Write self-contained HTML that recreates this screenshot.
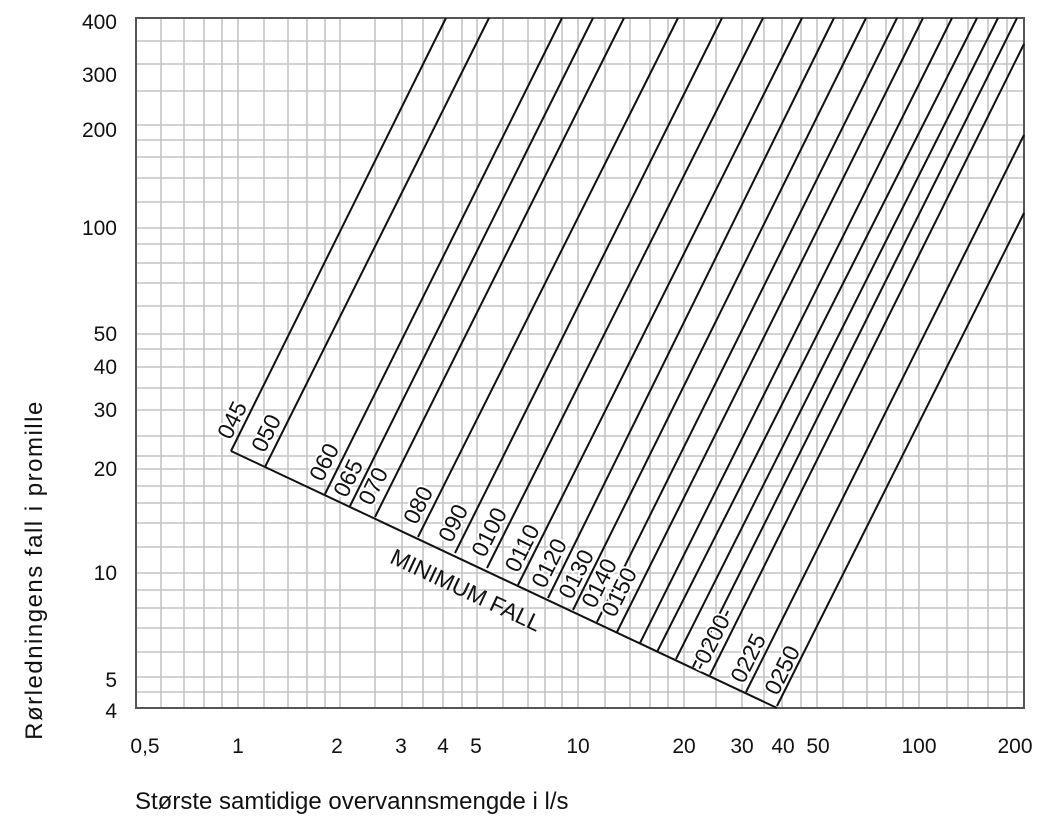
<!DOCTYPE html>
<html><head><meta charset="utf-8"><style>
html,body{margin:0;padding:0;background:#fff}
svg{display:block;font-family:"Liberation Sans",sans-serif}
</style></head><body>
<svg width="1051" height="819" viewBox="0 0 1051 819" xmlns="http://www.w3.org/2000/svg">
<g stroke="#c4c4c4" stroke-width="1.6">
<path d="M161 18V708M184 18V708M204 18V708M222 18V708M238 18V708M264 18V708M288 18V708M307 18V708M325 18V708M340 18V708M375 18V708M402 18V708M423 18V708M443 18V708M462 18V708M477 18V708M503 18V708M528 18V708M545 18V708M562 18V708M578 18V708M605 18V708M630 18V708M650 18V708M668 18V708M684 18V708M716 18V708M742 18V708M764 18V708M782 18V708M801 18V708M817 18V708M843 18V708M867 18V708M886 18V708M903 18V708M919 18V708M947 18V708M968 18V708M988 18V708M1007 18V708"/>
<path d="M136 41H1024M136 64H1024M136 91H1024M136 125H1024M136 140H1024M136 157H1024M136 178H1024M136 202H1024M136 228H1024M136 244H1024M136 263H1024M136 283H1024M136 306H1024M136 334H1024M136 349H1024M136 367H1024M136 388H1024M136 410H1024M136 436H1024M136 456H1024M136 469H1024M136 486H1024M136 503H1024M136 523H1024M136 547H1024M136 573H1024M136 590H1024M136 608H1024M136 628H1024M136 652H1024M136 677H1024M136 692H1024"/>
</g>
<rect x="136" y="18" width="888" height="690" fill="none" stroke="#555" stroke-width="2"/>
<g stroke="#111" stroke-width="2" fill="none">
<path d="M231 451L777 708"/>
<path d="M231 451L446 18M265 467L489 18M325 494L562 18M350 506L593 18M375 517L624 18M418 537L678 18M455 553L722 18M487 568L763 18M518 585L802 18M548 598L834 18M573 610L866 18M597 622L897 18M617 632L923 18M640 643L952 18M657 652L977 18M676 659L998 18M693 667L1017 18M710 675L1024 44M746 692L1024 135M777 706L1024 213"/>
</g>
<g font-size="23" fill="#111" text-anchor="middle" dominant-baseline="central">
<g stroke="#fff" stroke-width="4" paint-order="stroke">
<text transform="translate(232,420) rotate(-63.5)">045</text>
<text transform="translate(266,433) rotate(-63.5)">050</text>
<text transform="translate(324,462) rotate(-63.5)">060</text>
<text transform="translate(348,478) rotate(-63.5)">065</text>
<text transform="translate(373,486) rotate(-63.5)">070</text>
<text transform="translate(418,505) rotate(-63.5)">080</text>
<text transform="translate(453,523) rotate(-63.5)">090</text>
<text transform="translate(489,532) rotate(-63.5)">0100</text>
<text transform="translate(522,548) rotate(-63.5)">0110</text>
<text transform="translate(549,563) rotate(-63.5)">0120</text>
<text transform="translate(576,574) rotate(-63.5)">0130</text>
<text transform="translate(599,583) rotate(-63.5)">0140</text>
<text transform="translate(619,592) rotate(-63.5)">0150</text>
<text transform="translate(712,639) rotate(-63.5)">-0200-</text>
<text transform="translate(748,658) rotate(-63.5)">0225</text>
<text transform="translate(782,670) rotate(-63.5)">0250</text>
</g>
<text transform="translate(466,590) rotate(25.2)" font-size="23">MINIMUM FALL</text>
</g>
<g font-size="21" fill="#111" text-anchor="end">
<text x="117" y="29">400</text>
<text x="117" y="82">300</text>
<text x="117" y="137">200</text>
<text x="117" y="235">100</text>
<text x="117" y="341">50</text>
<text x="117" y="374">40</text>
<text x="117" y="417">30</text>
<text x="117" y="476">20</text>
<text x="117" y="580">10</text>
<text x="117" y="687">5</text>
<text x="117" y="718">4</text>
</g>
<g font-size="21" fill="#111" text-anchor="middle">
<text x="145" y="753">0,5</text>
<text x="238" y="753">1</text>
<text x="337" y="753">2</text>
<text x="401" y="753">3</text>
<text x="443" y="753">4</text>
<text x="476" y="753">5</text>
<text x="578" y="753">10</text>
<text x="684" y="753">20</text>
<text x="742" y="753">30</text>
<text x="783" y="753">40</text>
<text x="818" y="753">50</text>
<text x="919" y="753">100</text>
<text x="1015" y="753">200</text>
</g>
<text x="135" y="809" font-size="24" fill="#111">Største samtidige overvannsmengde i l/s</text>
<text transform="translate(42,570) rotate(-90)" font-size="24" letter-spacing="1.5" fill="#111" text-anchor="middle">Rørledningens fall i promille</text>
</svg>
</body></html>
